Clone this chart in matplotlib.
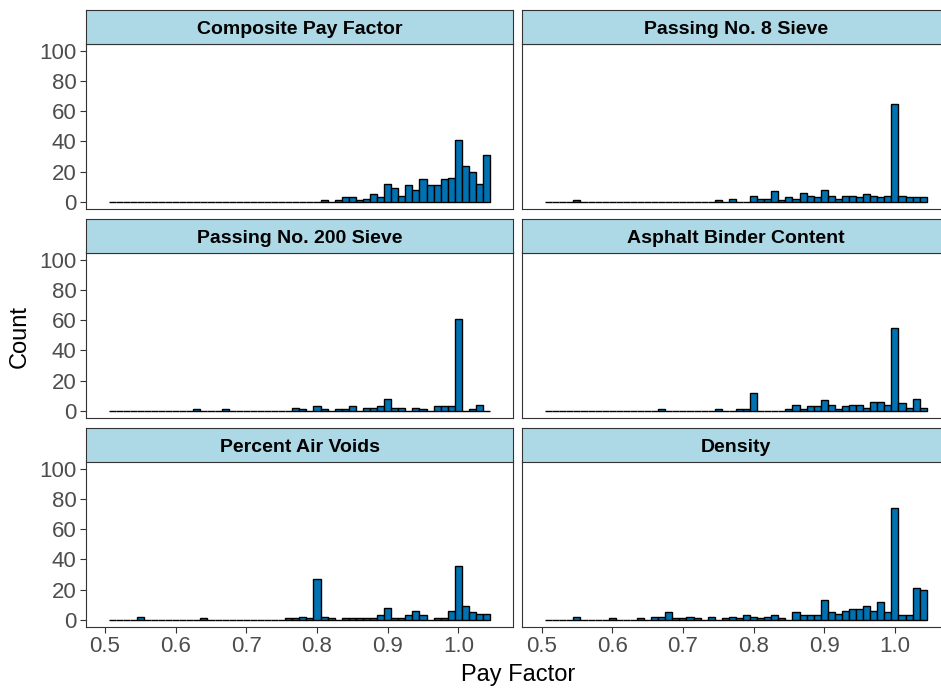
"""Pay factor histograms, one facet per quality characteristic."""

import matplotlib.pyplot as plt
import numpy as np

plt.rcParams["font.family"] = ["Liberation Sans", "DejaVu Sans"]

# bin centres 0.51 ... 1.04 (width 0.01)
BIN_WIDTH = 0.01
bin_centers = np.round(np.arange(54) * BIN_WIDTH + 0.51, 2)

panel_titles = [
    "Composite Pay Factor",
    "Passing No. 8 Sieve",
    "Passing No. 200 Sieve",
    "Asphalt Binder Content",
    "Percent Air Voids",
    "Density",
]

# counts per bin, rows of 10: 0.51-0.60, 0.61-0.70, 0.71-0.80, 0.81-0.90, 0.91-1.00, 1.01-1.04
composite = [
    0, 0, 0, 0, 0, 0, 0, 0, 0, 0,
    0, 0, 0, 0, 0, 0, 0, 0, 0, 0,
    0, 0, 0, 0, 0, 0, 0, 0, 0, 0,
    1, 0, 1, 3, 3, 1, 2, 5, 3, 12,
    9, 4, 11, 8, 15, 11, 11, 15, 16, 41,
    24, 20, 12, 31,
]
passing_8 = [
    0, 0, 0, 0, 1, 0, 0, 0, 0, 0,
    0, 0, 0, 0, 0, 0, 0, 0, 0, 0,
    0, 0, 0, 0, 1, 0, 2, 0, 0, 4,
    2, 2, 7, 1, 3, 2, 6, 4, 3, 8,
    4, 2, 4, 4, 3, 5, 4, 3, 4, 65,
    4, 3, 3, 3,
]
passing_200 = [
    0, 0, 0, 0, 0, 0, 0, 0, 0, 0,
    0, 0, 1, 0, 0, 0, 1, 0, 0, 0,
    0, 0, 0, 0, 0, 0, 2, 1, 0, 3,
    1, 0, 1, 1, 3, 0, 2, 2, 3, 8,
    2, 2, 0, 2, 1, 0, 3, 3, 3, 61,
    0, 1, 4, 0,
]
binder = [
    0, 0, 0, 0, 0, 0, 0, 0, 0, 0,
    0, 0, 0, 0, 0, 0, 1, 0, 0, 0,
    0, 0, 0, 0, 1, 0, 0, 1, 1, 12,
    0, 0, 0, 0, 1, 4, 1, 3, 3, 7,
    4, 1, 3, 4, 4, 2, 6, 6, 4, 55,
    5, 2, 8, 2,
]
air_voids = [
    0, 0, 0, 0, 2, 0, 0, 0, 0, 0,
    0, 0, 0, 1, 0, 0, 0, 0, 0, 0,
    0, 0, 0, 0, 0, 1, 1, 2, 1, 27,
    2, 1, 0, 1, 1, 1, 1, 1, 3, 8,
    1, 1, 3, 6, 3, 0, 1, 1, 6, 36,
    9, 5, 4, 4,
]
density = [
    0, 0, 0, 0, 2, 0, 0, 0, 0, 1,
    0, 0, 0, 1, 0, 2, 2, 5, 1, 1,
    2, 1, 0, 2, 0, 1, 2, 1, 3, 2,
    1, 2, 3, 1, 0, 5, 3, 3, 3, 13,
    5, 4, 6, 7, 7, 9, 6, 12, 5, 74,
    3, 3, 21, 20,
]
panel_counts = [composite, passing_8, passing_200, binder, air_voids, density]

x_ticks = [0.5, 0.6, 0.7, 0.8, 0.9, 1.0]
y_ticks = [0, 20, 40, 60, 80, 100]

BAR_FILL = "#0072B2"
STRIP_FILL = "#ADD8E6"
LINE_COL = "#333333"
TICK_COL = "#4D4D4D"

W, H = 941, 688
fig = plt.figure(figsize=(W / 100, H / 100), dpi=100)

# pixel layout (right column runs past the figure edge, as in the source)
col_left = [85.7, 522.3]
panel_w = 427.6
strip_top0 = 10.3
strip_h = 33.2
panel_h = 165.8
row_pitch = 209.0


def px_rect(x0, y0, w, h):
    return [x0 / W, 1 - (y0 + h) / H, w / W, h / H]


for i, (title, counts) in enumerate(zip(panel_titles, panel_counts)):
    row, col = divmod(i, 2)
    x0 = col_left[col]
    s_top = strip_top0 + row * row_pitch
    p_top = s_top + strip_h

    ax = fig.add_axes(px_rect(x0, p_top, panel_w, panel_h))
    ax.bar(bin_centers, counts, width=BIN_WIDTH, color=BAR_FILL,
           edgecolor="black", linewidth=1.0)
    ax.set_xlim(0.4727, 1.0778)
    ax.set_ylim(-5, 105)
    ax.set_xticks(x_ticks)
    ax.set_yticks(y_ticks)
    for side in ax.spines.values():
        side.set_color(LINE_COL)
        side.set_linewidth(0.8)
    ax.tick_params(length=4, width=0.8, color=LINE_COL, labelsize=16,
                   labelcolor=TICK_COL, pad=2.5)
    if col == 0:
        ax.set_yticklabels([str(v) for v in y_ticks])
    else:
        ax.tick_params(axis="y", left=False, labelleft=False)
    if row == 2:
        ax.set_xticklabels([f"{v:.1f}" for v in x_ticks])
    else:
        ax.tick_params(axis="x", bottom=False, labelbottom=False)

    sx = fig.add_axes(px_rect(x0, s_top, panel_w, strip_h))
    sx.set_facecolor(STRIP_FILL)
    sx.set_xticks([])
    sx.set_yticks([])
    for side in sx.spines.values():
        side.set_color(LINE_COL)
        side.set_linewidth(0.8)
    sx.text(0.5, 0.286, title, transform=sx.transAxes, ha="center",
            va="baseline", fontsize=14, fontweight="bold", color="black")

fig.text(20 / W, 1 - 336 / H, "Count", rotation=90, ha="center",
         va="center", fontsize=17)
fig.text(518 / W, 1 - 675 / H, "Pay Factor", ha="center", va="center",
         fontsize=17)

fig.savefig("out.png", dpi=100)
